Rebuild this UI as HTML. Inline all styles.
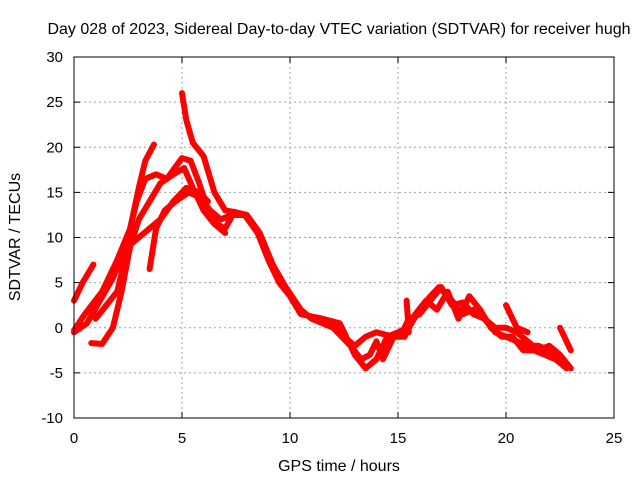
<!DOCTYPE html>
<html><head><meta charset="utf-8"><style>
body{margin:0;background:#fff}
svg{display:block;font-family:"Liberation Sans",sans-serif}
</style></head><body>
<svg id="chart" width="640" height="480" viewBox="0 0 640 480">
<rect width="640" height="480" fill="#fff"/>
<text x="339" y="34" font-size="16" text-anchor="middle">Day 028 of 2023, Sidereal Day-to-day VTEC variation (SDTVAR) for receiver hugh</text>
<g id="grid"></g><g id="ticks"></g><g id="series"></g>
<rect x="74" y="57" width="540" height="361" fill="none" stroke="#000" stroke-width="1"/>
<text x="339" y="471" font-size="16" text-anchor="middle">GPS time / hours</text>
<text transform="translate(20,237) rotate(-90)" font-size="16" text-anchor="middle">SDTVAR / TECUs</text>
</svg>
<script>
const xTicks=[0,5,10,15,20,25];
const yTicks=[-10,-5,0,5,10,15,20,25,30];
const trackA=[[0,3],[0.4,5],[0.9,7]];
const trackB=[[0,-0.3],[0.5,1.5],[1.3,4],[2,7.5],[2.6,11],[3,15.5],[3.3,18.5],[3.7,20.3]];
const trackC=[[0,-0.5],[0.6,0.5],[1.2,3],[1.8,5.5],[2.4,9],[2.9,14],[3.3,16.5],[3.8,17],[4.3,16.5],[4.6,17.5],[5,18.8],[5.4,18.5],[5.8,16],[6.2,13],[6.6,11.5],[7,11],[7.3,12.3]];
const trackD=[[0.8,-1.7],[1.3,-1.8],[1.8,0],[2.2,4],[2.6,9],[3,12],[3.5,14],[4,16],[4.6,17],[5.1,17.7],[5.5,15.5],[6,13],[6.5,11.5],[7,10.5]];
const trackE=[[3.5,6.5],[3.8,11],[4.2,13],[4.7,14],[5.3,15],[5.8,14.5],[6.3,13],[6.8,12],[7.3,12.5],[7.9,12.5],[8.5,10.5],[9,7.5],[9.5,5],[10,3.5],[10.5,1.5],[11.5,1],[12.3,0.5],[13,-3],[13.5,-4.5],[14,-3.5],[14.5,-1],[15,-0.5],[15.5,0],[16,2],[16.5,3.5],[16.9,4.5],[17.5,3],[18,1.5],[18.5,2],[19,1],[19.5,0],[20,0],[20.5,-0.5],[21,-1.5],[21.5,-2.5],[22,-2],[22.5,-3],[23,-4.5]];
const trackF=[[1,1],[2,4],[2.5,9],[3,10],[3.5,11],[4,12],[4.6,14],[5.2,15.5],[5.8,15],[6.2,14]];
const trackG=[[5,26],[5.2,23],[5.5,20.5],[6,19],[6.5,15],[7,13],[7.5,12.8],[8,12.5],[8.6,10.5],[9.2,7],[9.8,4.5],[10.5,2],[11,1],[12,0.5],[12.5,-1],[13,-2],[13.5,-1],[14,-0.5],[14.8,-1],[15.2,-0.5],[15.5,1],[16,1.5],[16.5,3],[17,4.5],[17.5,2.5],[18,2.8],[18.5,1.5],[19,1],[19.5,-0.5],[20,-1],[20.5,-1.5],[21,-2],[21.5,-2],[22,-2.5],[22.5,-3.5],[22.9,-4.2]];
const trackH=[[11,1],[12,0],[12.8,-2],[13.3,-3.5],[13.7,-3],[14,-1.5],[14.3,-3.5],[14.8,-1],[15.3,-1],[15.8,1.5],[16.3,3],[16.8,2],[17.3,4],[17.8,1],[18.3,3.5],[18.8,2],[19.3,0],[19.8,-1],[20.3,-1],[20.8,-2.5],[21.3,-2.5],[21.8,-3],[22.3,-3.5],[22.8,-4.5]];
const trackI=[[20,2.5],[20.5,0],[21,-0.5]];
const trackJ=[[22.5,0],[23,-2.5]];
const trackK=[[15.4,3],[15.5,-0.5]];
const tracks=[trackA,trackB,trackC,trackD,trackE,trackF,trackG,trackH,trackI,trackJ,trackK];
const X=h=>74+h*540/25;
const Y=v=>418-(v+10)*361/40;
const NS="http://www.w3.org/2000/svg";
function mk(t,a,p){const e=document.createElementNS(NS,t);for(const k in a)e.setAttribute(k,a[k]);p.appendChild(e);return e;}
const grid=document.getElementById('grid'),ticks=document.getElementById('ticks'),ser=document.getElementById('series');
xTicks.forEach(t=>{const x=X(t);
 if(t>0&&t<25){const g=mk('line',{x1:x,x2:x,y1:57,y2:418,stroke:'#a0a0a0','stroke-dasharray':'2,3'},grid);
 
 }
 mk('line',{x1:x,x2:x,y1:418,y2:412,stroke:'#000'},ticks);mk('line',{x1:x,x2:x,y1:57,y2:63,stroke:'#000'},ticks);
 const l=mk('text',{x:x,y:443,'font-size':15,'text-anchor':'middle'},ticks);l.textContent=t;
 
 });
yTicks.forEach(t=>{const y=Y(t);
 if(t>-10&&t<30){const g=mk('line',{x1:74,x2:614,y1:y,y2:y,stroke:'#a0a0a0','stroke-dasharray':'2,3'},grid);
 
 }
 mk('line',{x1:74,x2:80,y1:y,y2:y,stroke:'#000'},ticks);mk('line',{x1:614,x2:608,y1:y,y2:y,stroke:'#000'},ticks);
 const l=mk('text',{x:63,y:y+5,'font-size':15,'text-anchor':'end'},ticks);l.textContent=t;
 
 });
tracks.forEach(tr=>{
 const p=mk('polyline',{points:tr.map(d=>X(d[0])+','+Y(d[1])).join(' '),fill:'none',stroke:'#ff0000','stroke-width':6,'stroke-linejoin':'round','stroke-linecap':'round'},ser);
 
 
});
</script>
</body></html>
